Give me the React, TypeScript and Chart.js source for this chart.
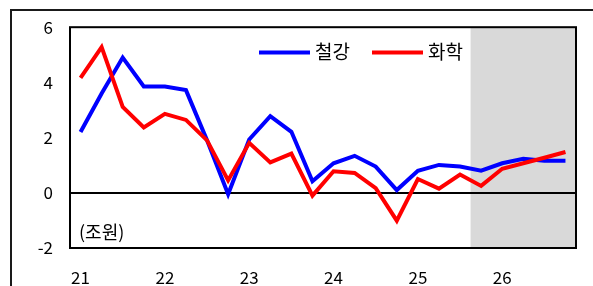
import React, { useEffect, useRef } from "react";
import { Chart, registerables } from "chart.js";

Chart.register(...registerables);

const quarters = [
  "21.1Q", "21.2Q", "21.3Q", "21.4Q",
  "22.1Q", "22.2Q", "22.3Q", "22.4Q",
  "23.1Q", "23.2Q", "23.3Q", "23.4Q",
  "24.1Q", "24.2Q", "24.3Q", "24.4Q",
  "25.1Q", "25.2Q", "25.3Q", "25.4Q",
  "26.1Q", "26.2Q", "26.3Q", "26.4Q",
];
const yearLabels = ["21", "22", "23", "24", "25", "26"];
const steel = [2.2, 3.6, 4.9, 3.85, 3.85, 3.72, 1.9, -0.05, 1.93, 2.78, 2.21, 0.42, 1.07, 1.34, 0.95, 0.1, 0.8, 1.01, 0.95, 0.8, 1.07, 1.23, 1.16, 1.16];
const chem = [4.16, 5.28, 3.11, 2.37, 2.86, 2.64, 1.9, 0.45, 1.81, 1.1, 1.42, -0.1, 0.78, 0.72, 0.17, -1.01, 0.5, 0.15, 0.66, 0.25, 0.87, 1.07, 1.27, 1.48];
const seriesNames = ["철강", "화학"];
const forecastStartIndex = 19;
const unitLabel = "(조원)";

const FONT = "'Noto Sans CJK KR', 'Noto Sans', sans-serif";

export default function App() {
  const ref = useRef<HTMLCanvasElement>(null);
  useEffect(() => {
    if (!ref.current) return;
    const decor = {
      id: "decor",
      beforeDraw(chart: any) {
        const { ctx, chartArea, scales } = chart;
        const x0 = scales.x.getPixelForValue(forecastStartIndex - 0.5);
        ctx.save();
        ctx.fillStyle = "#d9d9d9";
        ctx.fillRect(x0, chartArea.top, chartArea.right - x0, chartArea.bottom - chartArea.top);
        ctx.restore();
      },
      afterDraw(chart: any) {
        const { ctx, chartArea } = chart;
        ctx.save();
        ctx.strokeStyle = "#000";
        ctx.lineWidth = 2;
        ctx.strokeRect(chartArea.left, chartArea.top, chartArea.right - chartArea.left, chartArea.bottom - chartArea.top);
        ctx.strokeStyle = "#1a1a1a";
        ctx.beginPath();
        ctx.moveTo(11, chart.height);
        ctx.lineTo(11, 10);
        ctx.lineTo(chart.width, 10);
        ctx.stroke();
        const items = [
          { name: seriesNames[0], color: "#0000ff", x: 259 },
          { name: seriesNames[1], color: "#ff0000", x: 372 },
        ];
        ctx.font = `19px ${FONT}`;
        ctx.textBaseline = "middle";
        ctx.textAlign = "left";
        for (const it of items) {
          ctx.strokeStyle = it.color;
          ctx.lineWidth = 4;
          ctx.beginPath();
          ctx.moveTo(it.x, 52.5);
          ctx.lineTo(it.x + 51, 52.5);
          ctx.stroke();
          ctx.fillStyle = "#000";
          ctx.fillText(it.name, it.x + 56, 52);
        }
        ctx.font = `18px ${FONT}`;
        ctx.fillText(unitLabel, chartArea.left + 9, 232);
        ctx.restore();
      },
    };
    const chart = new Chart(ref.current, {
      type: "line",
      data: {
        labels: quarters,
        datasets: [
          { label: seriesNames[1], data: chem, borderColor: "#ff0000", borderWidth: 4, pointRadius: 0, tension: 0, fill: false },
          { label: seriesNames[0], data: steel, borderColor: "#0000ff", borderWidth: 4, pointRadius: 0, tension: 0, fill: false },
        ],
      },
      options: {
        animation: false,
        responsive: false,
        maintainAspectRatio: false,
        layout: { padding: { left: 0, right: 17, top: 22, bottom: 0 } },
        plugins: { legend: { display: false }, tooltip: { enabled: false } },
        scales: {
          x: {
            type: "category",
            offset: true,
            grid: { display: false, drawTicks: false },
            border: { display: false },
            afterFit(scale: any) { scale.height = 38; },
            ticks: {
              autoSkip: false,
              maxRotation: 0,
              padding: 19,
              color: "#000",
              font: { family: FONT, size: 17 },
              callback: (_v: any, i: number) => (i % 4 === 0 ? yearLabels[i / 4] : ""),
            },
          },
          y: {
            min: -2,
            max: 6,
            afterFit(scale: any) { scale.width = 70; },
            border: { display: false },
            grid: {
              drawTicks: false,
              color: (c: any) => (c.tick && c.tick.value === 0 ? "#000" : "rgba(0,0,0,0)"),
              lineWidth: 2,
            },
            ticks: {
              stepSize: 2,
              padding: 17,
              color: "#000",
              font: { family: FONT, size: 17 },
            },
          },
        },
      },
      plugins: [decor],
    });
    return () => chart.destroy();
  }, []);
  return (
    <div style={{ position: "absolute", left: 0, top: 0, width: 593, height: 286, background: "#fff" }}>
      <canvas ref={ref} width={593} height={286} style={{ width: 593, height: 286, display: "block" }} />
    </div>
  );
}
